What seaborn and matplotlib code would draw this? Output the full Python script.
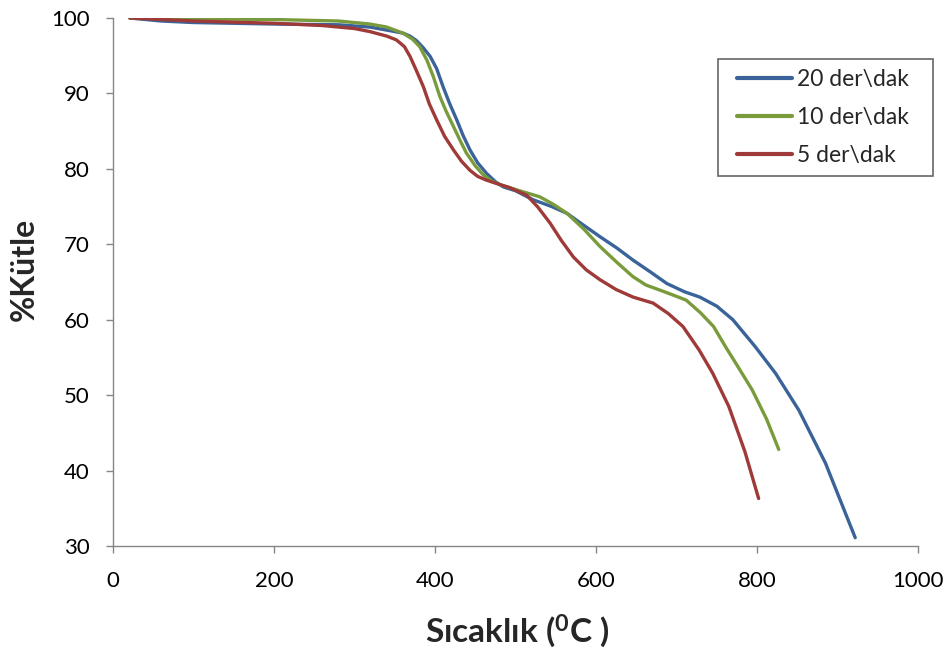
import numpy as np
import pandas as pd
import matplotlib
matplotlib.use("Agg")
import matplotlib.pyplot as plt
from matplotlib.legend_handler import HandlerLine2D
from matplotlib.lines import Line2D
import seaborn as sns

# ---- data ----
x20 = [21, 60, 100, 200, 280, 319, 345, 360, 369, 377, 385, 394, 402, 410, 418, 427, 435, 443.5, 453, 464, 475,
       485, 500, 522, 545, 564, 585, 605, 626, 646, 668, 688, 710, 729, 750, 770, 798, 823, 852, 885, 922]
y20 = [100, 99.6, 99.4, 99.2, 99.1, 98.8, 98.3, 98.0, 97.6, 97.0, 96.1, 94.9, 93.3, 90.9, 88.7, 86.5, 84.4, 82.5, 80.8,
       79.4, 78.3, 77.6, 77.1, 75.9, 75.0, 74.1, 72.5, 71.0, 69.5, 67.9, 66.3, 64.8, 63.7, 63.0, 61.8, 60.0, 56.4, 52.9,
       48.0, 41.0, 31.1]

x10 = [21, 100, 200, 280, 319, 340, 360, 372, 381, 390, 398, 406, 414, 423, 431, 439, 450, 460, 470,
       481, 505, 530, 547, 564, 585, 605, 626, 646, 662, 680, 695, 712, 730, 746, 761, 775, 794, 812, 827]
y10 = [100, 99.9, 99.8, 99.6, 99.2, 98.8, 98.0, 97.2, 96.2, 94.4, 92.2, 89.6, 87.6, 85.6, 83.8, 82.1, 80.4, 79.2, 78.4,
       77.9, 77.1, 76.3, 75.3, 74.1, 72.0, 69.7, 67.6, 65.7, 64.6, 63.9, 63.3, 62.6, 60.9, 59.1, 56.4, 54.0, 50.7, 46.8, 42.8]

x5 = [21, 100, 200, 260, 300, 319, 340, 352, 362, 369, 377, 385.5, 393, 402, 412, 423, 433, 443.5, 453,
      464, 481, 493, 514, 528, 543, 557, 572, 588, 605, 625, 646, 671, 690, 708, 728, 745, 765, 785, 802]
y5 = [100, 99.6, 99.3, 99.0, 98.6, 98.2, 97.6, 97.1, 96.2, 94.9, 93.0, 90.9, 88.6, 86.5, 84.3, 82.5, 81.0, 79.8, 79.0,
      78.5, 77.9, 77.5, 76.5, 74.9, 72.8, 70.5, 68.3, 66.6, 65.3, 64.0, 63.0, 62.2, 60.8, 59.1, 56.0, 52.9, 48.5, 42.5, 36.3]

series_names = ["20 der\\dak", "10 der\\dak", "5 der\\dak"]
colors = ["#3A6399", "#7A9B3B", "#9E3A38"]
xticks = [0, 200, 400, 600, 800, 1000]
yticks = [30, 40, 50, 60, 70, 80, 90, 100]

df = pd.concat([
    pd.DataFrame({"x": x20, "y": y20, "s": series_names[0]}),
    pd.DataFrame({"x": x10, "y": y10, "s": series_names[1]}),
    pd.DataFrame({"x": x5, "y": y5, "s": series_names[2]}),
], ignore_index=True)

sns.set_theme(style="white")
plt.rcParams["font.family"] = ["Lato", "DejaVu Sans"]
plt.rcParams["mathtext.fontset"] = "custom"
plt.rcParams["mathtext.rm"] = "Lato"
plt.rcParams["mathtext.bf"] = "Lato:bold"

fig = plt.figure(figsize=(9.48, 6.5), dpi=100)
# axes: x from px 113 to 918, y from px 18 to 546
ax = fig.add_axes([113 / 948, 1 - 546 / 650, 805 / 948, 528 / 650])

sns.lineplot(data=df, x="x", y="y", hue="s", palette=dict(zip(series_names, colors)),
             estimator=None, sort=False, linewidth=2.4, ax=ax)

ax.set_xlim(0, 1000)
ax.set_ylim(30, 100)
ax.set_xticks(xticks)
ax.set_yticks(yticks)
ax.tick_params(axis="both", labelsize=16, colors="#868686", labelcolor="black",
               direction="out", length=5, width=1, bottom=True, left=True)
ax.tick_params(axis="x", pad=13)
ax.tick_params(axis="y", pad=12)
for s in ["top", "right"]:
    ax.spines[s].set_visible(False)
for s in ["left", "bottom"]:
    ax.spines[s].set_color("#868686")
    ax.spines[s].set_linewidth(1)

ax.set_xlabel(r"Sıcaklık ($\mathbf{^{0}}$C )", fontsize=24, fontweight="bold")
ax.set_ylabel("%Kütle", fontsize=23, fontweight="bold")
ax.xaxis.set_label_coords(0.502, -0.126)
ax.yaxis.set_label_coords(-0.092, 0.523)

fs = 16.5
fpx = fs * 100 / 72
leg = ax.legend(loc="upper left", bbox_to_anchor=(0.7516, 0.5, 0.2671, 0.4223), mode="expand",
                fontsize=fs, frameon=True, fancybox=False, edgecolor="#404040",
                handlelength=64.2 / fpx, handletextpad=5 / fpx,
                borderpad=9.8 / fpx, labelspacing=0.75, borderaxespad=0,
                handler_map={Line2D: HandlerLine2D(xpad=9.2 / fpx)})
leg.get_frame().set_linewidth(1.2)
for line in leg.get_lines():
    line.set_linewidth(3)

fig.savefig("out.png", dpi=100)
